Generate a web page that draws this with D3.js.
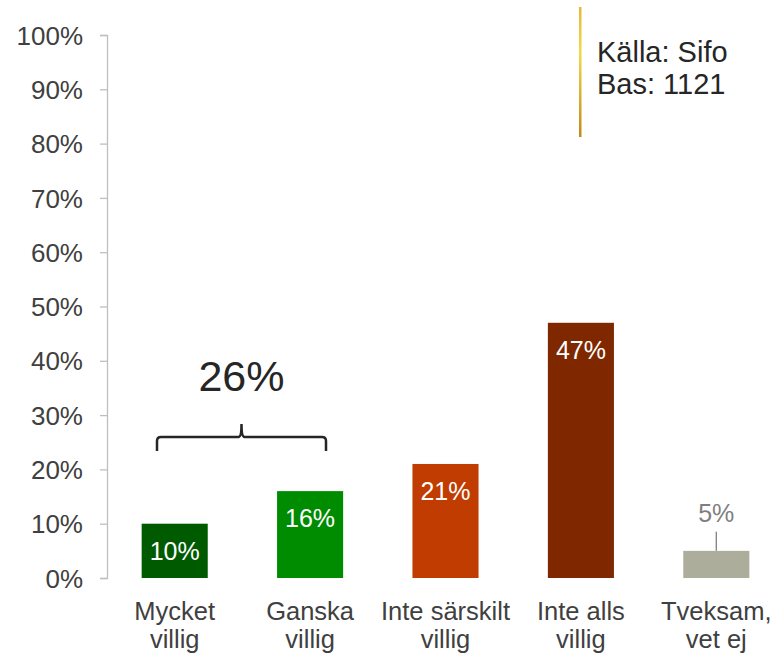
<!DOCTYPE html>
<html>
<head>
<meta charset="utf-8">
<script src="https://cdn.jsdelivr.net/npm/d3@7"></script>
<style>
  body { margin: 0; background: #fff; }
  text { font-family: "Liberation Sans", Arial, sans-serif; }
</style>
</head>
<body>
<script>
// data
const categories = [['Mycket', 'villig'], ['Ganska', 'villig'], ['Inte särskilt', 'villig'], ['Inte alls', 'villig'], ['Tveksam,', 'vet ej']]
const values = [10, 16, 21, 47, 5]
const colors = ['#005a00', '#008c00', '#c03c00', '#7f2800', '#adad9c']
const ticks = [0, 10, 20, 30, 40, 50, 60, 70, 80, 90, 100]
const groupTotal = '26%'
const sourceLines = ['Källa: Sifo', 'Bas: 1121']

const width = 774, height = 654
const svg = d3.select('body').append('svg').attr('width', width).attr('height', height)

const y = d3.scaleLinear().domain([0, 100]).range([578, 35])
const x = d3.scaleBand().domain(d3.range(values.length)).range([107, 784]).paddingInner(0.512).paddingOuter(0.256)

// y axis
const yAxis = d3.axisLeft(y).tickValues(ticks).tickSize(7).tickPadding(17).tickFormat(d => d + '%')
const ga = svg.append('g').attr('transform', 'translate(107,0)').call(yAxis)
ga.select('.domain').attr('stroke', '#bfbfbf').attr('stroke-width', 1.3)
ga.selectAll('.tick line').attr('stroke', '#bfbfbf').attr('stroke-width', 1.3)
ga.selectAll('.tick text').attr('fill', '#404040').style('font-size', '26px').attr('dy', '0.35em')

// bars
svg.selectAll('rect.bar').data(values).enter().append('rect')
  .attr('class', 'bar')
  .attr('x', (d, i) => x(i))
  .attr('y', d => y(d))
  .attr('width', x.bandwidth())
  .attr('height', d => y(0) - y(d))
  .attr('fill', (d, i) => colors[i])

// value labels
svg.selectAll('text.val').data(values).enter().append('text')
  .attr('class', 'val')
  .attr('x', (d, i) => x(i) + x.bandwidth() / 2)
  .attr('y', d => d < 8 ? y(d) - 29 : y(d) + 36)
  .attr('text-anchor', 'middle')
  .attr('fill', d => d < 8 ? '#7f7f7f' : '#fff')
  .style('font-size', '25px')
  .text(d => d + '%')

// leader line for small bar
values.forEach((d, i) => {
  if (d < 8) {
    const cx = x(i) + x.bandwidth() / 2
    svg.append('line').attr('x1', cx).attr('x2', cx).attr('y1', y(d) - 19).attr('y2', y(d))
      .attr('stroke', '#7f7f7f').attr('stroke-width', 1.3)
  }
})

// category labels
const cat = svg.selectAll('text.cat').data(categories).enter().append('text')
  .attr('class', 'cat')
  .attr('x', (d, i) => x(i) + x.bandwidth() / 2)
  .attr('y', 620)
  .attr('text-anchor', 'middle')
  .attr('fill', '#404040')
  .style('font-size', '25.5px')
cat.selectAll('tspan').data(d => d).enter().append('tspan')
  .attr('x', function () { return d3.select(this.parentNode).attr('x') })
  .attr('dy', (d, i) => i ? 28 : 0)
  .text(d => d)

// brace over first two bars
const bx0 = 157, bx1 = 326, bmid = (bx0 + bx1) / 2, by = 437
svg.append('path')
  .attr('d', `M${bx0},${by + 14} L${bx0},${by + 4} Q${bx0},${by} ${bx0 + 4},${by} L${bmid - 3},${by} Q${bmid},${by} ${bmid},${by - 13} Q${bmid},${by} ${bmid + 3},${by} L${bx1 - 4},${by} Q${bx1},${by} ${bx1},${by + 4} L${bx1},${by + 14}`)
  .attr('fill', 'none').attr('stroke', '#262626').attr('stroke-width', 2.5)
svg.append('text').attr('x', bmid).attr('y', 391).attr('text-anchor', 'middle')
  .attr('fill', '#262626').style('font-size', '43px').text(groupTotal)

// source box
const grad = svg.append('defs').append('linearGradient').attr('id', 'gold')
  .attr('x1', 0).attr('x2', 0).attr('y1', 0).attr('y2', 1)
grad.append('stop').attr('offset', '0%').attr('stop-color', '#e8b83a')
grad.append('stop').attr('offset', '35%').attr('stop-color', '#f5d74a')
grad.append('stop').attr('offset', '100%').attr('stop-color', '#c08a1a')
svg.append('rect').attr('x', 579).attr('y', 7).attr('width', 2.5).attr('height', 130).attr('fill', 'url(#gold)')
svg.selectAll('text.src').data(sourceLines).enter().append('text')
  .attr('class', 'src')
  .attr('x', 597).attr('y', (d, i) => 62 + i * 32)
  .attr('fill', '#262626').style('font-size', '29px')
  .text(d => d)
</script>
</body>
</html>
